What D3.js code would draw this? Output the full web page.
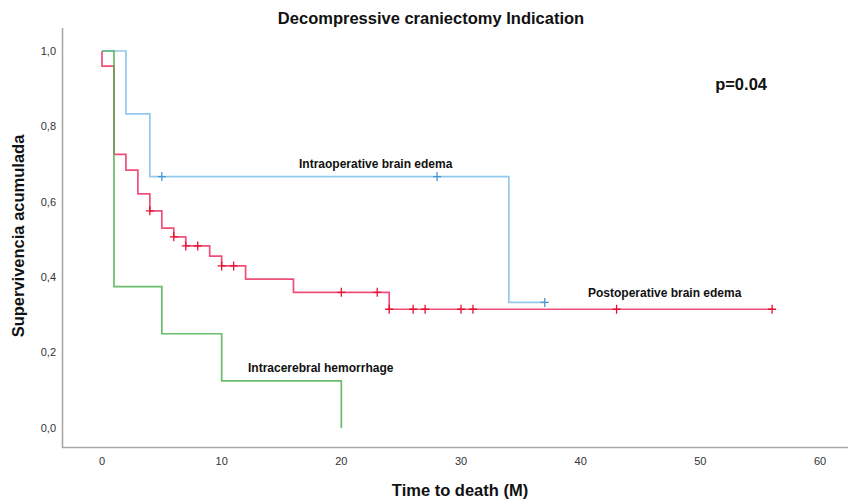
<!DOCTYPE html>
<meta charset="utf-8">
<style>
    body { margin: 0; background: #fff; }
    text { font-family: "Liberation Sans", Arial, sans-serif; }
    .tick-label { font-size: 11px; fill: #333; }
    .axis-title { font-size: 16.5px; font-weight: bold; fill: #111; }
    .curve-label { font-size: 12px; font-weight: bold; fill: #111; }
    .km { fill: none; stroke-width: 1.7px; }
</style>
<svg width="848" height="500"></svg>
<script src="https://d3js.org/d3.v7.min.js"></script>
<script>

    // Kaplan-Meier curves (time in months, cumulative survival)
    var intraTimes = [0, 2, 4, 34],
        intraSurv = [1.0, 0.833, 0.667, 0.333],
        intraEnd = 37,
        intraCensor = [5, 28, 37];

    var postTimes = [0, 0, 1, 2, 3, 4, 5, 6, 7, 9, 10, 12, 16, 24],
        postSurv = [1.0, 0.96, 0.726, 0.684, 0.621, 0.576, 0.530, 0.507, 0.483, 0.456, 0.430, 0.395, 0.360, 0.315],
        postEnd = 56,
        postCensor = [4, 6, 7, 8, 10, 11, 20, 23, 24, 26, 27, 30, 31, 43, 56];

    var hemoTimes = [0, 1, 5, 10, 20],
        hemoSurv = [1.0, 0.375, 0.25, 0.125, 0.0],
        hemoEnd = 20,
        hemoCensor = [];

    var xTicks = [0, 10, 20, 30, 40, 50, 60],
        yTicks = [0, 0.2, 0.4, 0.6, 0.8, 1.0];

    var svg = d3.select("svg");

    var x = d3.scaleLinear().domain([0, 60]).range([102, 820]),
        y = d3.scaleLinear().domain([0, 1]).range([428, 51]);

    var frameLeft = 62.5, frameBottom = 447.5, frameTop = 28;

    // frame: left and bottom only
    svg.append("path")
        .attr("d", "M" + frameLeft + "," + frameTop + "V" + frameBottom + "H848")
        .attr("fill", "none")
        .attr("stroke", "#a8a8a8")
        .attr("stroke-width", 1.6);

    // tick labels (comma decimals)
    svg.selectAll(".ylab")
        .data(yTicks)
        .enter().append("text")
        .attr("class", "tick-label")
        .attr("x", 56)
        .attr("y", d => y(d))
        .attr("dy", "0.35em")
        .attr("text-anchor", "end")
        .text(d => d.toFixed(1).replace(".", ","));

    svg.selectAll(".xlab")
        .data(xTicks)
        .enter().append("text")
        .attr("class", "tick-label")
        .attr("x", d => x(d))
        .attr("y", 465)
        .attr("text-anchor", "middle")
        .text(d => d);

    // titles
    svg.append("text")
        .attr("class", "axis-title")
        .attr("x", 431)
        .attr("y", 24)
        .attr("text-anchor", "middle")
        .text("Decompressive craniectomy Indication");

    svg.append("text")
        .attr("class", "axis-title")
        .attr("x", 460)
        .attr("y", 496)
        .attr("text-anchor", "middle")
        .text("Time to death (M)");

    svg.append("text")
        .attr("class", "axis-title")
        .attr("transform", "translate(24,236) rotate(-90)")
        .attr("text-anchor", "middle")
        .text("Supervivencia acumulada");

    svg.append("text")
        .attr("class", "axis-title")
        .attr("x", 767)
        .attr("y", 90)
        .attr("text-anchor", "end")
        .text("p=0.04");

    // step line builder
    var line = d3.line()
        .curve(d3.curveStepAfter)
        .x(d => x(d.t))
        .y(d => y(d.s));

    function toPoints(times, surv, end) {
        var pts = times.map((t, i) => ({t: t, s: surv[i]}));
        pts.push({t: end, s: surv[surv.length - 1]});
        return pts;
    }

    function survAt(times, surv, t) {
        var s = surv[0];
        for (var i = 0; i < times.length; i++) if (times[i] <= t) s = surv[i];
        return s;
    }

    var curves = [
        {id: "intra", times: intraTimes, surv: intraSurv, end: intraEnd, censor: intraCensor, stroke: "#7fc0ea", mark: "#4d93cf"},
        {id: "post", times: postTimes, surv: postSurv, end: postEnd, censor: postCensor, stroke: "#ec2f62", mark: "#e8102e"},
        {id: "hemo", times: hemoTimes, surv: hemoSurv, end: hemoEnd, censor: hemoCensor, stroke: "#4fb051", mark: "#3a9a3c"}
    ];

    var g = svg.selectAll(".curve")
        .data(curves)
        .enter().append("g")
        .attr("class", "curve");

    g.append("path")
        .attr("class", "km")
        .attr("stroke", d => d.stroke)
        .attr("stroke-opacity", 0.85)
        .attr("d", d => line(toPoints(d.times, d.surv, d.end)));

    // censor crosses
    g.each(function(c) {
        var sel = d3.select(this);
        c.censor.forEach(function(t) {
            var cx = x(t), cy = y(survAt(c.times, c.surv, t));
            sel.append("path")
                .attr("d", "M" + (cx - 4) + "," + cy + "H" + (cx + 4) + "M" + cx + "," + (cy - 4.5) + "V" + (cy + 4.5))
                .attr("stroke", c.mark)
                .attr("stroke-width", 1.3)
                .attr("fill", "none");
        });
    });

    // curve labels
    svg.append("text").attr("class", "curve-label")
        .attr("x", 299).attr("y", 168)
        .text("Intraoperative brain edema");

    svg.append("text").attr("class", "curve-label")
        .attr("x", 588).attr("y", 297)
        .text("Postoperative brain edema");

    svg.append("text").attr("class", "curve-label")
        .attr("x", 248).attr("y", 372)
        .text("Intracerebral hemorrhage");

</script>
